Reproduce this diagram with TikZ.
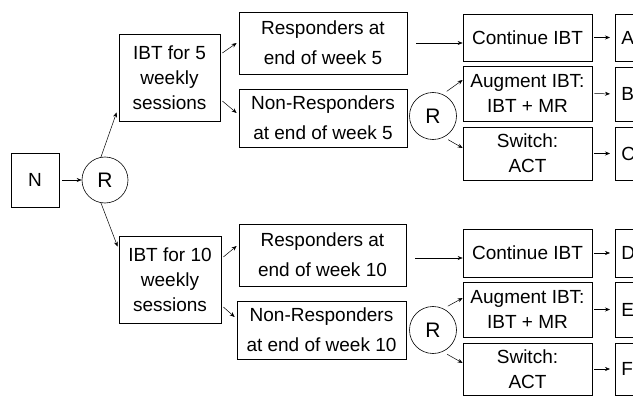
\documentclass[tikz,border=0pt]{standalone}
\usepackage{fontspec}
\setmainfont{Liberation Sans}
\usetikzlibrary{arrows.meta,calc}
\begin{document}
\begin{tikzpicture}[x=1pt,y=-1pt,
 box/.style={draw, line width=0.7pt, inner sep=0pt, align=center, font=\fontsize{19}{25}\selectfont},
 rbox/.style={box, font=\fontsize{19}{30}\selectfont},
 rand/.style={draw, circle, line width=0.6pt, inner sep=0pt, minimum size=46pt, font=\fontsize{21}{25}\selectfont},
 arr/.style={line width=0.5pt, -{Stealth[length=5pt,width=4pt]}},
 lab/.style={box, anchor=west, minimum width=60pt, text width=48pt, inner xsep=6pt, align=left}
]
\useasboundingbox (0,0) rectangle (633,396);
\clip (0,0) rectangle (633,396);

% first stage
\node[box, minimum width=48pt, minimum height=54pt] (N) at (35,180) {N};
\node[rand] (R1) at (105,180) {R};
\node[box, minimum width=101pt, minimum height=87pt] (I5) at (169.5,77.5) {IBT for 5\\weekly\\sessions};
\node[box, minimum width=102pt, minimum height=87pt] (I10) at (170,279.5) {IBT for 10\\weekly\\sessions};

% responders
\node[rbox, minimum width=168pt, minimum height=62pt] (RS5) at (323,43) {Responders at\\end of week 5};
\node[rbox, minimum width=168pt, minimum height=58pt] (NR5) at (323,118) {Non-Responders\\at end of week 5};
\node[rbox, minimum width=167pt, minimum height=62pt] (RS10) at (322.5,255) {Responders at\\end of week 10};
\node[rbox, minimum width=169pt, minimum height=58pt] (NR10) at (321.5,330) {Non-Responders\\at end of week 10};

\node[rand, minimum size=47pt] (R2) at (433,116) {R};
\node[rand, minimum size=47pt] (R3) at (433,330) {R};

% second stage
\node[box, minimum width=129pt, minimum height=47pt] (C1) at (527.5,37.5) {Continue IBT};
\node[box, minimum width=129pt, minimum height=55pt] (G1) at (527.5,93.5) {Augment IBT:\\IBT + MR};
\node[box, minimum width=129pt, minimum height=53pt] (S1) at (527.5,153.5) {Switch:\\ACT};
\node[box, minimum width=129pt, minimum height=48pt] (C2) at (527.5,253) {Continue IBT};
\node[box, minimum width=129pt, minimum height=55pt] (G2) at (527.5,309.5) {Augment IBT:\\IBT + MR};
\node[box, minimum width=129pt, minimum height=52pt] (S2) at (527.5,369) {Switch:\\ACT};

% outcome boxes (cut by the right edge)
\node[lab, minimum height=47pt] (A) at (615,37.5) {A};
\node[lab, minimum height=54pt] (B) at (615,94) {B};
\node[lab, minimum height=53pt] (C) at (615,153.5) {C};
\node[lab, minimum height=48pt] (D) at (615,253) {D};
\node[lab, minimum height=55pt] (E) at (615,309.5) {E};
\node[lab, minimum height=52pt] (F) at (615,369) {F};

% connectors
\draw[arr, shorten <=3pt] (N.east) -- (R1.west);
\draw[arr] (R1.100) -- ([xshift=-2pt,yshift=9pt]I5.south west);
\draw[arr] (R1.-100) -- ([xshift=-1pt,yshift=-11pt]I10.north west);

\draw[arr] ([xshift=2pt,yshift=24.5pt]I5.east) -- ([xshift=-2pt]RS5.west);
\draw[arr] ([xshift=2pt,yshift=-23.5pt]I5.east) -- ([xshift=-2pt,yshift=5pt]NR5.west);
\draw[arr] ([xshift=2pt,yshift=22.5pt]I10.east) -- ([xshift=-2pt,yshift=9pt]RS10.west);
\draw[arr] ([xshift=2pt,yshift=-27.5pt]I10.east) -- ([xshift=-2pt,yshift=13pt]NR10.west);

\draw[arr] ([xshift=9pt]RS5.east) -- (C1.west |- RS5.east);
\draw[arr] ([xshift=9pt,yshift=-3pt]RS10.east) -- ([yshift=-5pt]C2.west);

\draw[arr, shorten <=5pt] (R2.66) -- ([yshift=13.5pt]G1.west);
\draw[arr, shorten <=5pt] (R2.-63) -- ([yshift=5.5pt]S1.west);
\draw[arr, shorten <=5pt] (R3.64) -- ([yshift=11.5pt]G2.west);
\draw[arr, shorten <=5pt] (R3.-66) -- ([yshift=6pt]S2.west);

\draw[arr, shorten <=2pt, shorten >=5pt] (C1.east) -- (A.west);
\draw[arr, shorten <=2pt, shorten >=5pt] (G1.east) -- (B.west);
\draw[arr, shorten <=2pt, shorten >=5pt] (S1.east) -- (C.west);
\draw[arr, shorten <=2pt, shorten >=5pt] (C2.east) -- (D.west);
\draw[arr, shorten <=2pt, shorten >=5pt] (G2.east) -- (E.west);
\draw[arr, shorten <=2pt, shorten >=5pt] (S2.east) -- (F.west);
\end{tikzpicture}
\end{document}
